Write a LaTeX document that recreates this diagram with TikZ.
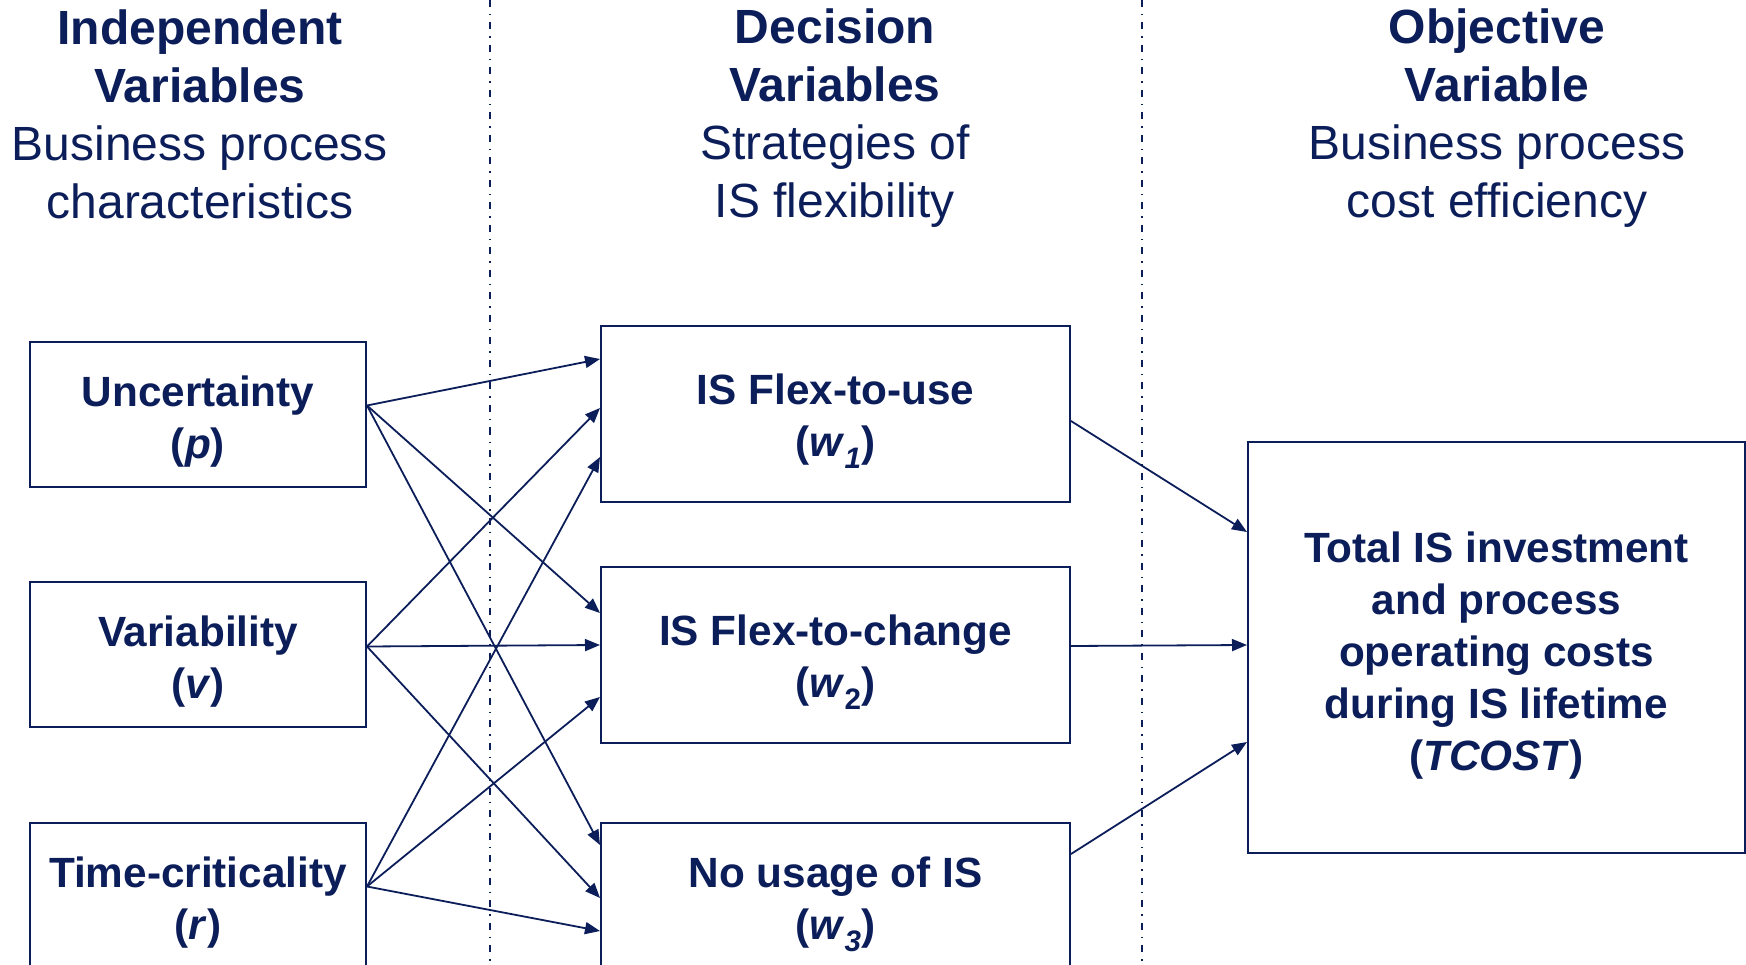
\documentclass[tikz,border=0pt]{standalone}
\usepackage{fontspec}
\setmainfont{Liberation Sans}
\usetikzlibrary{arrows.meta}
\definecolor{navy}{RGB}{12,30,90}
\tikzset{
  box/.style={draw=navy, line width=2pt, rectangle, inner sep=0pt},
  boxtext/.style={inner sep=0pt, align=center, text=navy,
    font=\bfseries\fontsize{42.3}{52}\selectfont},
  head/.style={inner sep=0pt, align=center, text=navy, font=\fontsize{48}{58}\selectfont},
  link/.style={draw=navy, line width=1.8pt, -{Triangle[length=15pt,width=12pt]}},
  divider/.style={draw=navy, line width=2pt, dash pattern=on 7pt off 7pt on 1.5pt off 7pt}
}
\newcommand{\sub}[1]{\textsubscript{\itshape #1}}
\begin{document}
\begin{tikzpicture}[x=1pt,y=-1pt]
  \useasboundingbox (0,0) rectangle (1746,965);
  \clip (0,0) rectangle (1746,965);

  % column separators
  \coordinate (s1t) at (490,0);   \coordinate (s1b) at (490,965);
  \coordinate (s2t) at (1142,0);  \coordinate (s2b) at (1142,965);
  \draw[divider] (s1t) -- (s1b);
  \draw[divider] (s2t) -- (s2b);

  % column headings
  \node[head] (h1) at (200,114) {\textbf{Independent}\\\textbf{Variables}\\Business process\\characteristics};
  \node[head] (h2) at (835,118.5) {\textbf{Decision}\\\textbf{Variables}\\Strategies of\\IS flexibility};
  \node[head] (h3) at (1497,118.5) {\textbf{Objective}\\\textbf{Variable}\\Business process\\cost efficiency};

  % independent variables
  \node[box, minimum width=336pt, minimum height=145pt] (u) at (198,414.5) {};
  \node[box, minimum width=336pt, minimum height=145pt] (v) at (198,654.5) {};
  \node[box, minimum width=336pt, minimum height=145pt] (r) at (198,895.5) {};
  \node[boxtext] (ut) at ([yshift=-7pt]u.center) {Uncertainty\\(\textit{p})};
  \node[boxtext] (vt) at ([yshift=-7pt]v.center) {Variability\\(\textit{v})};
  \node[boxtext] (rt) at ([yshift=-7pt]r.center) {Time-criticality\\(\textit{r})};

  % decision variables
  \node[box, minimum width=469pt, minimum height=176pt] (f1) at (835.5,414) {};
  \node[box, minimum width=469pt, minimum height=176pt] (f2) at (835.5,655) {};
  \node[box, minimum width=469pt, minimum height=148pt] (f3) at (835.5,897) {};
  \node[boxtext] (f1t) at ([yshift=-7pt]f1.center) {IS Flex-to-use\\(\textit{w}\sub{1})};
  \node[boxtext] (f2t) at ([yshift=-7pt]f2.center) {IS Flex-to-change\\(\textit{w}\textsubscript{2})};
  \node[boxtext] (f3t) at ([yshift=-7pt]f3.center) {No usage of IS\\(\textit{w}\sub{3})};

  % objective variable
  \node[box, minimum width=497pt, minimum height=411pt] (t) at (1496.5,647.5) {};
  \node[boxtext] (tt) at ([yshift=-8pt]t.center)
    {Total IS investment\\and process\\operating costs\\during IS lifetime\\(\textit{TCOST})};

  % independent -> decision
  \draw[link] ([yshift=9pt]u.east) -- ([yshift=-34pt]f1.north west);
  \draw[link] ([yshift=9pt]u.east) -- ([yshift=-47pt]f2.north west);
  \draw[link] ([yshift=9pt]u.east) -- ([yshift=-23pt]f3.north west);
  \draw[link] ([yshift=8pt]v.east) -- ([yshift=-83pt]f1.north west);
  \draw[link] ([yshift=8pt]v.east) -- ([yshift=-79pt]f2.north west);
  \draw[link] ([yshift=8pt]v.east) -- ([yshift=-76pt]f3.north west);
  \draw[link] ([yshift=9pt]r.east) -- ([yshift=-132pt]f1.north west);
  \draw[link] ([yshift=9pt]r.east) -- ([yshift=-131pt]f2.north west);
  \draw[link] ([yshift=9pt]r.east) -- ([yshift=-109pt]f3.north west);

  % decision -> objective
  \draw[link] ([yshift=-7pt]f1.east) -- ([yshift=-91pt]t.north west);
  \draw[link] ([yshift=9pt]f2.east) -- ([yshift=-204pt]t.north west);
  \draw[link] ([yshift=-32pt]f3.north east) -- ([yshift=-301pt]t.north west);
\end{tikzpicture}
\end{document}
